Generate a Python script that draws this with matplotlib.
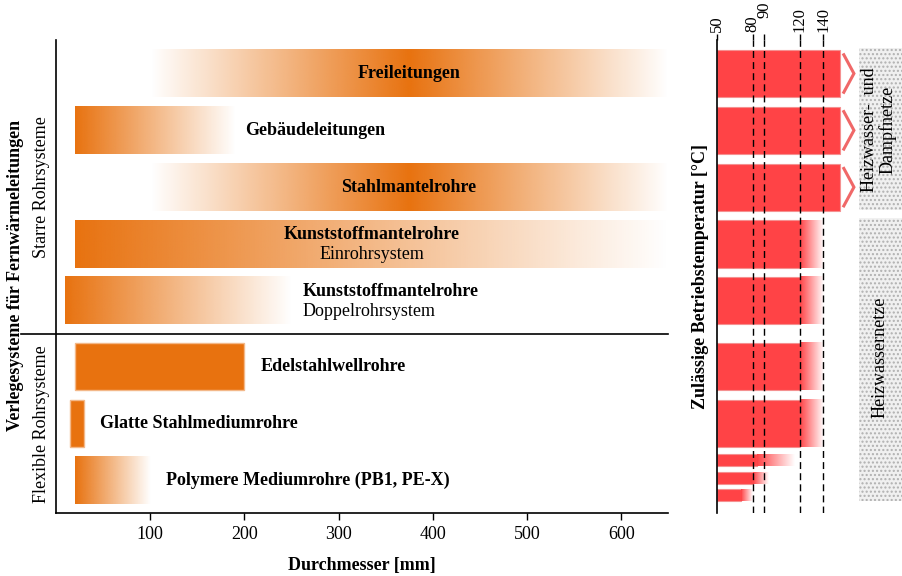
import numpy as np
import matplotlib
matplotlib.use('Agg')
import matplotlib.pyplot as plt
from matplotlib.patches import Rectangle
from matplotlib.colors import to_rgb

plt.rcParams['font.family'] = ['Liberation Serif', 'DejaVu Serif']

# Verlegesysteme (links): Durchmesserbereiche in mm
pipe_names = ['Freileitungen', 'Gebäudeleitungen', 'Stahlmantelrohre',
              'Kunststoffmantelrohre', 'Kunststoffmantelrohre', 'Edelstahlwellrohre',
              'Glatte Stahlmediumrohre', 'Polymere Mediumrohre (PB1, PE-X)']
pipe_sub = ['', '', '', 'Einrohrsystem', 'Doppelrohrsystem', '', '', '']
d_min = [100, 20, 100, 20, 10, 20, 15, 20]
d_max = [650, 190, 650, 650, 250, 200, 30, 100]
d_full = [375, 20, 375, 20, 10, 20, 15, 20]      # Stelle der vollen Farbe
alpha_start = [0, 1, 0, 1, 1, 1, 1, 1]
alpha_end = [0, 0, 0, 0, 0, 1, 1, 0]
rows = [0, 1, 2, 3, 4, 5.15, 6.16, 7.16]
label_x = [375, 201, 374, 335, 262, 217, 47, 117]
label_ha = ['center', 'left', 'center', 'center', 'left', 'left', 'left', 'left']
x_ticks = [100, 200, 300, 400, 500, 600]

# Betriebstemperatur (rechts) in °C
temp_rows = [0, 1, 2, 3, 4, 5.15, 6.16, 6.80, 7.12, 7.42]
temp_heights = [0.83] * 7 + [0.21] * 3
t_solid = [154, 154, 154, 120, 120, 120, 120, 84, 80, 70]
t_fade = [154, 154, 154, 140, 140, 140, 140, 116, 93, 80]
open_ended = [True, True, True, False, False, False, False, False, False, False]
t_ticks = [50, 80, 90, 120, 140]
t_lines = [80, 90, 120, 140]

orange = '#E8720F'
red = '#FF4346'
fs = 13


def gradient_bar(ax, x0, x1, y, h, color, xs, alphas):
    arr = np.zeros((1, 300, 4))
    arr[..., :3] = to_rgb(color)
    arr[0, :, 3] = np.interp(np.linspace(x0, x1, 300), xs, alphas)
    ax.imshow(arr, extent=[x0, x1, y + h / 2, y - h / 2], aspect='auto',
              interpolation='bilinear', zorder=2)


fig = plt.figure(figsize=(9.02, 5.76), dpi=100)
ax = fig.add_axes([56 / 902, 1 - 513.3 / 576, 612.3 / 902, 473.3 / 576])
ax2 = fig.add_axes([717.3 / 902, 1 - 513.3 / 576, 184.7 / 902, 473.3 / 576])

h = 0.83
for i in range(len(pipe_names)):
    if alpha_start[i] == 1 and alpha_end[i] == 1:
        ax.barh(rows[i], d_max[i] - d_min[i], left=d_min[i], height=h,
                color=orange, edgecolor='#f3b889', linewidth=1, zorder=2)
    else:
        xs = [d_min[i], d_full[i], d_max[i]]
        al = [alpha_start[i], 1, alpha_end[i]]
        gradient_bar(ax, d_min[i], d_max[i], rows[i], h, orange, xs, al)
    if pipe_sub[i]:
        ax.text(label_x[i], rows[i] - 0.16, pipe_names[i], ha=label_ha[i], va='center',
                fontsize=fs, fontweight='bold', zorder=4)
        ax.text(label_x[i], rows[i] + 0.19, pipe_sub[i], ha=label_ha[i], va='center',
                fontsize=fs, zorder=4)
    else:
        ax.text(label_x[i], rows[i], pipe_names[i], ha=label_ha[i], va='center',
                fontsize=fs, fontweight='bold', zorder=4)

ax.set_xlim(0, 650)
ax.set_ylim(7.74, -0.59)
ax.set_xticks(x_ticks)
ax.set_yticks([])
ax.tick_params(axis='x', direction='out', length=5, width=1, labelsize=13, pad=4)
for s in ['top', 'right']:
    ax.spines[s].set_visible(False)
for s in ['left', 'bottom']:
    ax.spines[s].set_linewidth(1.2)
ax.set_xlabel('Durchmesser [mm]', fontsize=fs, fontweight='bold', labelpad=10)

ax.plot([-0.057, 1], [4.59, 4.59], transform=ax.get_yaxis_transform(),
        clip_on=False, color='black', lw=1.2)
ax.text(-0.066, 3.55, 'Verlegesysteme für Fernwärmeleitungen', rotation=90,
        transform=ax.get_yaxis_transform(), ha='center', va='center',
        fontsize=fs, fontweight='bold')
ax.text(-0.0229, 2.0, 'Starre Rohrsysteme', rotation=90,
        transform=ax.get_yaxis_transform(), ha='center', va='center', fontsize=fs)
ax.text(-0.0229, 6.17, 'Flexible Rohrsysteme', rotation=90,
        transform=ax.get_yaxis_transform(), ha='center', va='center', fontsize=fs)

# rechte Seite
for i in range(len(temp_rows)):
    y, hh = temp_rows[i], temp_heights[i]
    ax2.barh(y, t_solid[i] - 50, left=50, height=hh, color=red,
             edgecolor='#f59090', linewidth=0.8, zorder=2)
    if t_fade[i] > t_solid[i]:
        gradient_bar(ax2, t_solid[i], t_fade[i], y, hh, red,
                     [t_solid[i], t_fade[i]], [1, 0])
    if open_ended[i]:
        ax2.plot([157.4, 166, 157.4], [y - 0.33, y, y + 0.33], color='#f06868',
                 lw=2.2, solid_joinstyle='miter', zorder=3)

for t in t_lines:
    ax2.axvline(t, color='black', lw=1, ls=(0, (5, 3)), zorder=5)

ax2.add_patch(Rectangle((170, -0.45), 40, 2.86, facecolor='#f0f0f0', hatch='....',
                        edgecolor='#b0b0b0', linewidth=0, zorder=1))
ax2.add_patch(Rectangle((170, 2.54), 40, 4.98, facecolor='#f0f0f0', hatch='....',
                        edgecolor='#b0b0b0', linewidth=0, zorder=1))
ax2.text(187, 0.99, 'Heizwasser-  und\nDampfnetze', rotation=90, ha='center',
         va='center', fontsize=fs, linespacing=1.0, zorder=4)
ax2.text(188, 5.0, 'Heizwassernetze', rotation=90, ha='center', va='center',
         fontsize=fs, zorder=4)

ax2.set_xlim(50, 206.8)
ax2.set_ylim(7.74, -0.59)
ax2.set_yticks([])
ax2.set_xticks(t_ticks)
ax2.tick_params(axis='x', top=True, bottom=False, labeltop=True, labelbottom=False,
                labelrotation=90, direction='out', length=4, width=1, labelsize=12, pad=2)
ax2.xaxis.get_major_ticks()[2].set_pad(12)
for s in ['top', 'right', 'bottom']:
    ax2.spines[s].set_visible(False)
ax2.spines['left'].set_linewidth(1.2)
ax2.text(-0.09, 0.5, 'Zulässige Betriebstemperatur [°C]', rotation=90,
         transform=ax2.transAxes, ha='center', va='center', fontsize=fs,
         fontweight='bold')

fig.savefig('out.png', dpi=100)
